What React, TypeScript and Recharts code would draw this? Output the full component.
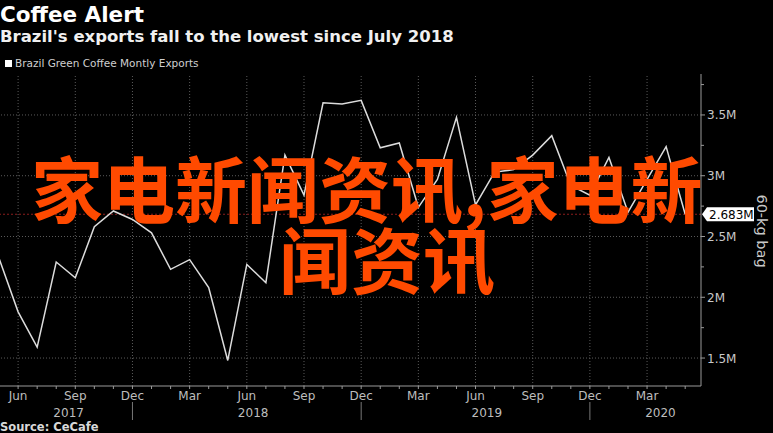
import React from 'react';
import { LineChart, Line, XAxis, YAxis, ReferenceLine } from 'recharts';

const months = [
  '2017-05', '2017-06', '2017-07', '2017-08', '2017-09', '2017-10', '2017-11', '2017-12',
  '2018-01', '2018-02', '2018-03', '2018-04', '2018-05', '2018-06', '2018-07', '2018-08',
  '2018-09', '2018-10', '2018-11', '2018-12', '2019-01', '2019-02', '2019-03', '2019-04',
  '2019-05', '2019-06', '2019-07', '2019-08', '2019-09', '2019-10', '2019-11', '2019-12',
  '2020-01', '2020-02', '2020-03', '2020-04', '2020-05',
];

// Brazil green coffee monthly exports, millions of 60-kg bags
const exportsM = [
  2.32, 1.88, 1.59, 2.29, 2.16, 2.58, 2.71, 2.64,
  2.53, 2.23, 2.31, 2.08, 1.48, 2.27, 2.12, 3.17,
  2.84, 3.6, 3.59, 3.62, 3.23, 3.27, 2.74, 2.97,
  3.48, 2.76, 3.03, 3.05, 3.17, 3.33, 2.92, 2.84,
  3.15, 2.7, 2.97, 3.24, 2.683,
];

const monthNames = ['Jan', 'Feb', 'Mar', 'Apr', 'May', 'Jun', 'Jul', 'Aug', 'Sep', 'Oct', 'Nov', 'Dec'];
const quarterLabels = ['Mar', 'Jun', 'Sep', 'Dec'];
const yearLabels = ['2017', '2018', '2019', '2020'];
const yTicks = [1.5, 1.75, 2, 2.25, 2.5, 2.75, 3, 3.25, 3.5, 3.75];
const yMajor = [1.5, 2, 2.5, 3, 3.5];
const yDomain: [number, number] = [1.27, 3.837];
const xDomain: [number, number] = [0.05, 36.83];
const lastValue = 2.683;

const title = 'Coffee Alert';
const subtitle = "Brazil's exports fall to the lowest since July 2018";
const legendLabel = 'Brazil Green Coffee Montly Exports';
const sourceText = 'Source: CeCafe';
const unitLabel = '60-kg bag';
const overlayLine1 = '家电新闻资讯,家电新';
const overlayLine2 = '闻资讯';

const data = months.map((m, i) => ({ i, month: m, value: exportsM[i] }));
const monthNum = (i: number) => parseInt(months[i].slice(5), 10);
const monthTicks = months.map((_, i) => i);
const quarterIdx = monthTicks.filter((i) => quarterLabels.includes(monthNames[monthNum(i) - 1]));
const decIdx = monthTicks.filter((i) => monthNum(i) === 12);
const bounds = [xDomain[0], ...decIdx, xDomain[1]];
const yearCenters = yearLabels.map((_, k) => (bounds[k] + bounds[k + 1]) / 2);

const FONT = 'DejaVu Sans';
const AXIS = '#9a9a9a';
const GRID = '#5a5a5a';

const MonthTick = (props: any) => {
  const { x, y, payload } = props;
  const idx = Math.round(payload.value);
  if (idx < 0 || idx >= months.length) return null;
  const m = monthNum(idx);
  const name = monthNames[m - 1];
  const isQ = quarterLabels.includes(name);
  return (
    <g>
      <line x1={x} x2={x} y1={y} y2={y + 3} stroke={AXIS} />
      {isQ && (
        <text x={x} y={y + 14} textAnchor="middle" fill="#bdbdbd" fontSize={12} fontFamily={FONT}>
          {name}
        </text>
      )}
      {m === 12 && <line x1={x} x2={x} y1={y + 16} y2={y + 34} stroke="#777" />}
    </g>
  );
};

const YearTick = (props: any) => {
  const { x, y, index } = props;
  return (
    <text x={x} y={y + 11} textAnchor="middle" fill="#bdbdbd" fontSize={12} fontFamily={FONT}>
      {yearLabels[index]}
    </text>
  );
};

const YTick = (props: any) => {
  const { x, y, payload } = props;
  const v = payload.value;
  const major = yMajor.includes(v);
  return (
    <g>
      <line x1={x} x2={x + (major ? 4 : 3)} y1={y} y2={y} stroke={AXIS} />
      {major && (
        <text x={x + 6} y={y + 4.5} fill="#c8c8c8" fontSize={12} fontFamily={FONT}>
          {`${v}M`}
        </text>
      )}
    </g>
  );
};

const LastLabel = (props: any) => {
  const vb = props.viewBox || {};
  const x = (vb.x || 0) + (vb.width || 0);
  const y = vb.y || 0;
  return (
    <g>
      <path d={`M${x + 1},${y} L${x + 6},${y - 7} H${x + 53} V${y + 7} H${x + 6} Z`} fill="#fff" />
      <text x={x + 8} y={y + 4.5} fill="#000" fontSize={12} fontFamily={FONT}>
        {`${lastValue}M`}
      </text>
    </g>
  );
};

export default function App() {
  return (
    <div style={{ position: 'absolute', left: 0, top: 0, width: 773, height: 433, background: '#000', overflow: 'hidden' }}>
      <LineChart width={773} height={433} data={data} margin={{ top: 74, right: 0, bottom: 5, left: 0 }}>
        <XAxis
          dataKey="i"
          type="number"
          domain={xDomain}
          allowDataOverflow
          ticks={monthTicks}
          interval={0}
          tick={<MonthTick />}
          tickLine={false}
          tickSize={0}
          tickMargin={0}
          axisLine={{ stroke: AXIS }}
          height={20}
        />
        <XAxis
          xAxisId="yr"
          type="number"
          domain={xDomain}
          allowDataOverflow
          ticks={yearCenters}
          interval={0}
          tick={<YearTick />}
          tickLine={false}
          tickSize={0}
          tickMargin={0}
          axisLine={false}
          height={22}
        />
        <YAxis
          orientation="right"
          type="number"
          domain={yDomain}
          allowDataOverflow
          ticks={yTicks}
          interval={0}
          tick={<YTick />}
          tickLine={false}
          tickSize={0}
          tickMargin={0}
          axisLine={{ stroke: AXIS }}
          width={72}
        />
        {yMajor.map((v) => (
          <ReferenceLine key={`h${v}`} y={v} stroke={GRID} strokeDasharray="1 2" />
        ))}
        {quarterIdx.map((i) => (
          <ReferenceLine key={`v${i}`} x={i} stroke={GRID} strokeDasharray="1 2" />
        ))}
        <ReferenceLine y={lastValue} stroke="#8a1c1c" strokeDasharray="2 2" label={(p: any) => <LastLabel {...p} />} />
        <Line
          type="linear"
          dataKey="value"
          stroke="#dcdcdc"
          strokeWidth={1.5}
          dot={false}
          isAnimationActive={false}
        />
      </LineChart>
      <svg width={773} height={433} style={{ position: 'absolute', left: 0, top: 0, pointerEvents: 'none' }}>
        <text x={0} y={21.5} fill="#fff" fontSize={21.5} fontWeight={700} fontFamily={FONT}>{title}</text>
        <text x={0} y={42} fill="#f0f0f0" fontSize={16.5} fontWeight={700} fontFamily={FONT}>{subtitle}</text>
        <rect x={5} y={60} width={7} height={7} fill="#fff" />
        <text x={15} y={67} fill="#cfcfcf" fontSize={10.5} fontFamily={FONT}>{legendLabel}</text>
        <text x={0} y={431} fill="#d8d8d8" fontSize={11.5} fontWeight={700} fontFamily={FONT}>{sourceText}</text>
        <text transform="translate(757,231) rotate(90)" textAnchor="middle" fill="#c8c8c8" fontSize={14.5} fontFamily={FONT}>{unitLabel}</text>
        <text x={31} y={217} fill="#ff4a00" fontSize={72} fontWeight={700} fontFamily="Noto Sans CJK SC">{overlayLine1}</text>
        <text x={279} y={288} fill="#ff4a00" fontSize={72} fontWeight={700} fontFamily="Noto Sans CJK SC">{overlayLine2}</text>
      </svg>
    </div>
  );
}
